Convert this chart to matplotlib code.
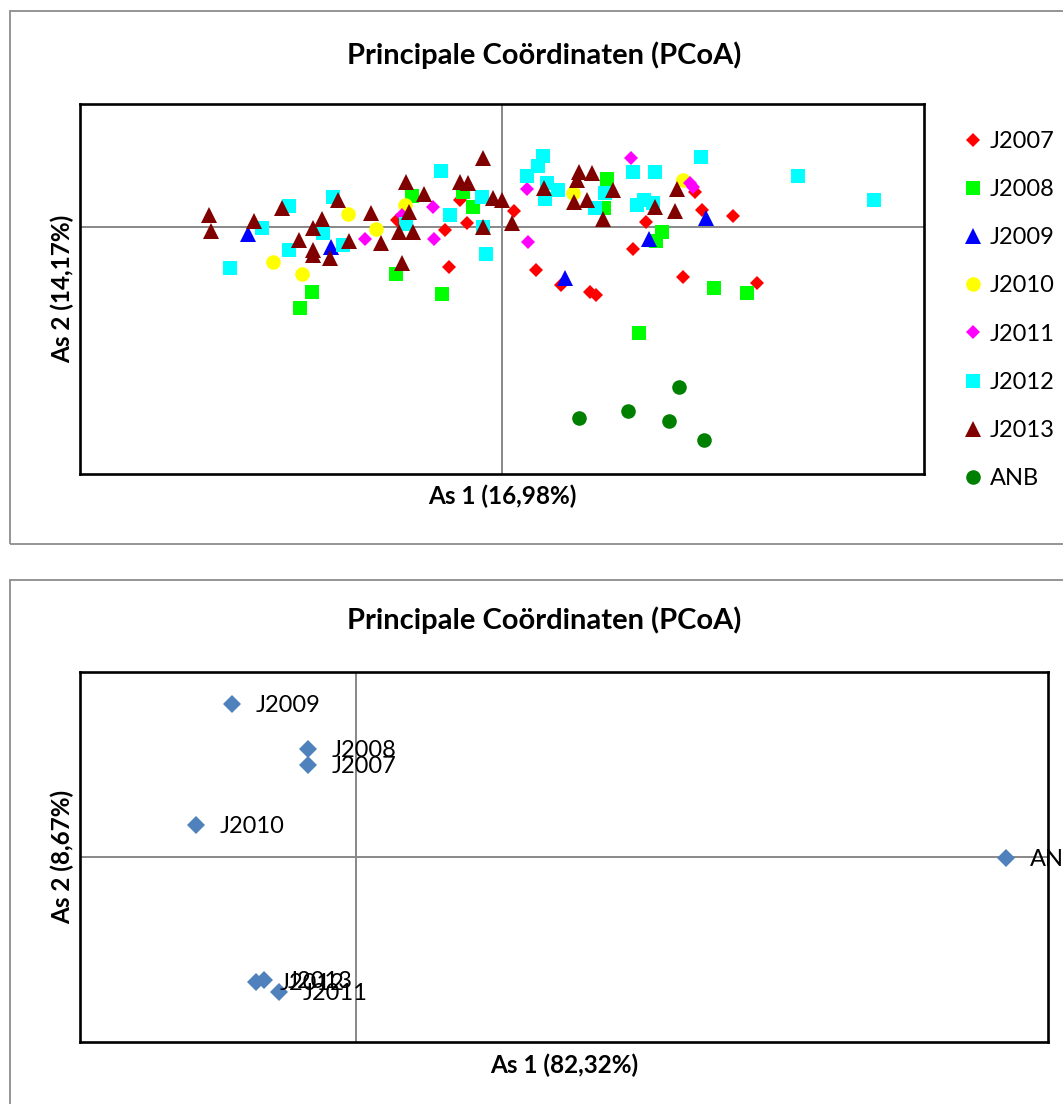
import matplotlib
matplotlib.use('Agg')
import matplotlib.pyplot as plt
from matplotlib.patches import Rectangle

plt.rcParams['font.family'] = ['Lato', 'DejaVu Sans']

W, H = 1063, 1104

# --- top chart: all samples per year ---
j2007_x = [-0.042, -0.035, -0.057, -0.053, -0.105, 0.012, 0.034, 0.059, 0.088, 0.094,
           0.144, 0.131, 0.181, 0.193, 0.200, 0.231, 0.255]
j2007_y = [0.027, 0.004, -0.003, -0.040, 0.007, 0.016, -0.043, -0.058, -0.065, -0.068,
           0.005, -0.022, -0.050, 0.035, 0.017, 0.011, -0.056]
j2008_x = [-0.090, -0.039, -0.029, -0.106, -0.060, -0.190, -0.202, 0.105, 0.102, 0.160,
           0.154, 0.212, 0.245, 0.137]
j2008_y = [0.031, 0.035, 0.020, -0.047, -0.067, -0.065, -0.081, 0.048, 0.019, -0.005,
           -0.014, -0.061, -0.066, -0.106]
j2009_x = [-0.254, -0.171, 0.063, 0.147, 0.204]
j2009_y = [-0.007, -0.020, -0.051, -0.012, 0.009]
j2010_x = [-0.154, -0.126, -0.229, -0.200, -0.097, 0.071, 0.181]
j2010_y = [0.013, -0.002, -0.035, -0.047, 0.022, 0.034, 0.047]
j2011_x = [-0.069, -0.068, -0.137, -0.100, 0.025, 0.026, 0.129, 0.188, 0.191]
j2011_y = [0.020, -0.012, -0.012, 0.012, 0.038, -0.015, 0.069, 0.044, 0.040]
j2012_x = [-0.272, -0.240, -0.213, -0.213, -0.169, -0.179, -0.159, -0.061, -0.052, -0.020,
           -0.019, -0.016, -0.096, 0.041, 0.036, 0.025, 0.045, 0.056, 0.043, 0.093,
           0.103, 0.131, 0.153, 0.199, 0.135, 0.142, 0.151, 0.296, 0.372]
j2012_y = [-0.041, -0.001, 0.021, -0.023, 0.030, -0.006, -0.018, 0.056, 0.012, 0.030,
           0.000, -0.027, 0.003, 0.071, 0.061, 0.051, 0.044, 0.037, 0.028, 0.019,
           0.034, 0.055, 0.055, 0.070, 0.022, 0.027, 0.024, 0.051, 0.027]
j2013_x = [-0.293, -0.291, -0.248, -0.220, -0.203, -0.189, -0.189, -0.189, -0.180, -0.172,
           -0.164, -0.153, -0.131, -0.121, -0.096, -0.093, -0.103, -0.089, -0.078, -0.100,
           -0.042, -0.034, -0.019, -0.019, -0.009, 0.000, 0.010, 0.042, 0.077, 0.090,
           0.075, 0.072, 0.085, 0.101, 0.111, 0.153, 0.173, 0.175]
j2013_y = [0.012, -0.004, 0.006, 0.019, -0.013, -0.001, -0.023, -0.028, 0.008, -0.031,
           0.027, -0.014, 0.014, -0.016, 0.045, 0.015, -0.005, -0.005, 0.033, -0.036,
           0.045, 0.044, 0.069, 0.000, 0.029, 0.027, 0.004, 0.039, 0.055, 0.054,
           0.047, 0.025, 0.027, 0.008, 0.037, 0.020, 0.016, 0.038]
anb_x = [0.077, 0.126, 0.167, 0.177, 0.202]
anb_y = [-0.191, -0.184, -0.194, -0.160, -0.213]

# --- bottom chart: group centroids ---
groups = ['J2007', 'J2008', 'J2009', 'J2010', 'J2011', 'J2012', 'J2013', 'ANB']
cent_x = [-0.048, -0.048, -0.124, -0.160, -0.077, -0.100, -0.092, 0.650]
cent_y = [0.092, 0.108, 0.153, 0.032, -0.135, -0.125, -0.123, -0.001]

series = [
    ('J2007', j2007_x, j2007_y, 'D', '#ff0000', 7.6),
    ('J2008', j2008_x, j2008_y, 's', '#00ff00', 10.5),
    ('J2009', j2009_x, j2009_y, '^', '#0000ff', 11),
    ('J2010', j2010_x, j2010_y, 'o', '#ffff00', 10.5),
    ('J2011', j2011_x, j2011_y, 'D', '#ff00ff', 7.6),
    ('J2012', j2012_x, j2012_y, 's', '#00ffff', 10.5),
    ('J2013', j2013_x, j2013_y, '^', '#800000', 11),
    ('ANB', anb_x, anb_y, 'o', '#008000', 10.5),
]


def fx(px):
    return px / W


def fy(py):
    return 1 - py / H


def style_axes(ax):
    ax.set_xticks([])
    ax.set_yticks([])
    for s in ax.spines.values():
        s.set_linewidth(1.9)
        s.set_color('black')
    ax.axhline(0, color='#888888', lw=1.4, zorder=0)
    ax.axvline(0, color='#888888', lw=1.4, zorder=0)


fig = plt.figure(figsize=(W / 100, H / 100), dpi=100)

# outer chart frames
fig.add_artist(Rectangle((fx(10), fy(544)), fx(1100) - fx(10), fy(11) - fy(544),
                         transform=fig.transFigure, fill=False, ec='#8c8c8c', lw=1.3))
fig.add_artist(Rectangle((fx(10), fy(1150)), fx(1100) - fx(10), fy(580) - fy(1150),
                         transform=fig.transFigure, fill=False, ec='#8c8c8c', lw=1.3))

# top chart
ax1 = fig.add_axes([fx(80), fy(474), fx(924) - fx(80), fy(104) - fy(474)])
for name, xs, ys, mk, col, ms in series:
    ax1.plot(xs, ys, ls='none', marker=mk, color=col, markersize=ms,
             markeredgewidth=0, label=name, zorder=3)
ax1.set_xlim(-0.422, 0.422)
ax1.set_ylim(-0.247, 0.123)
style_axes(ax1)
leg = ax1.legend(loc='upper left', bbox_to_anchor=(fx(959), fy(131)),
                 bbox_transform=fig.transFigure, frameon=False, fontsize=17,
                 labelspacing=1.15, handletextpad=0.1, handlelength=1.2,
                 borderaxespad=0, borderpad=0)

fig.text(fx(544), fy(55), 'Principale Coördinaten (PCoA)', ha='center', va='center',
         fontsize=21, fontweight='bold')
fig.text(fx(502), fy(496), 'As 1 (16,98%)', ha='center', va='center',
         fontsize=17.5, fontweight='bold')
fig.text(fx(62), fy(289), 'As 2 (14,17%)', ha='center', va='center',
         fontsize=17.5, fontweight='bold', rotation=90)

# bottom chart
ax2 = fig.add_axes([fx(80), fy(1042), fx(1048) - fx(80), fy(672) - fy(1042)])
ax2.plot(cent_x, cent_y, ls='none', marker='D', color='#4f81bd', markersize=9.5,
         markeredgewidth=0, zorder=3)
for name, x, y in zip(groups, cent_x, cent_y):
    ax2.annotate(name, (x, y), xytext=(17, -1), textcoords='offset points',
                 ha='left', va='center', fontsize=17, annotation_clip=False,
                 clip_on=False, zorder=4)
ax2.set_xlim(-0.276, 0.692)
ax2.set_ylim(-0.185, 0.185)
style_axes(ax2)

fig.text(fx(544), fy(620), 'Principale Coördinaten (PCoA)', ha='center', va='center',
         fontsize=21, fontweight='bold')
fig.text(fx(564), fy(1065), 'As 1 (82,32%)', ha='center', va='center',
         fontsize=17.5, fontweight='bold')
fig.text(fx(62), fy(857), 'As 2 (8,67%)', ha='center', va='center',
         fontsize=17.5, fontweight='bold', rotation=90)

fig.savefig('out.png', dpi=100)
